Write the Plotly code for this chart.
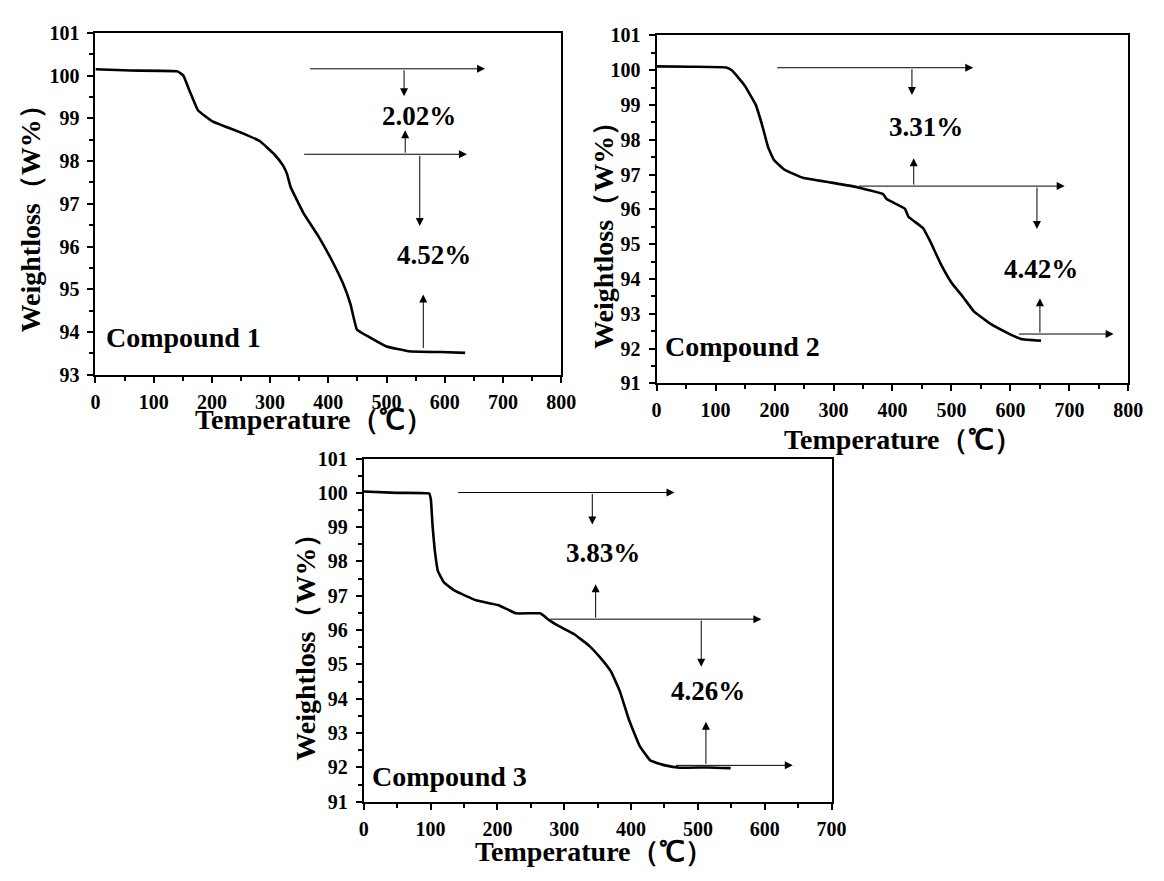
import plotly.graph_objects as go

# ---------------- data ----------------
c1_temp = [0, 60, 141, 151, 163, 176, 201, 251, 282, 307, 322, 329, 335, 357, 382, 407, 426, 438, 449, 469, 500, 538, 594, 635]
c1_wt   = [100.15, 100.12, 100.1, 100.0, 99.6, 99.19, 98.93, 98.66, 98.47, 98.16, 97.9, 97.7, 97.4, 96.79, 96.26, 95.65, 95.11, 94.65, 94.06, 93.89, 93.66, 93.55, 93.53, 93.51]

c2_temp = [0, 60, 118, 128, 149, 168, 180, 189, 199, 217, 248, 297, 340, 384, 390, 421, 427, 452, 464, 482, 501, 519, 538, 563, 593, 618, 652]
c2_wt   = [100.11, 100.1, 100.08, 99.99, 99.57, 99.01, 98.36, 97.79, 97.42, 97.14, 96.91, 96.77, 96.64, 96.44, 96.3, 96.02, 95.79, 95.46, 95.08, 94.43, 93.87, 93.5, 93.07, 92.75, 92.47, 92.28, 92.23]

c3_temp = [0, 50, 98, 100.5, 103, 106, 111, 120, 136, 168, 201, 228, 264, 277, 288, 315, 337, 353, 370, 383, 397, 413, 429, 451, 473, 516, 549]
c3_wt   = [100.04, 100.0, 99.98, 99.79, 99.04, 98.38, 97.72, 97.39, 97.15, 96.87, 96.73, 96.49, 96.49, 96.3, 96.16, 95.88, 95.55, 95.22, 94.79, 94.23, 93.38, 92.62, 92.2, 92.06, 91.99, 92.0, 91.98]

compound_labels = ["Compound 1", "Compound 2", "Compound 3"]
loss_labels = [["2.02%", "4.52%"], ["3.31%", "4.42%"], ["3.83%", "4.26%"]]
# label positions (temperature, weight)
loss_label_pos = [[(555, 99.05), (582, 95.8)], [(456, 98.36), (652, 94.28)], [(358, 98.26), (515, 94.22)]]
compound_pos = [(15, 93.86), (10, 92.05), (10, 91.74)]

# arrows: (tail_x, tail_y, head_x, head_y) in data units
arrows = [
    [(366, 100.16, 669, 100.16), (530, 100.16, 530, 99.52), (532, 98.16, 532, 98.72),
     (356, 98.16, 638, 98.16), (557, 98.16, 557, 96.48), (563, 93.59, 563, 94.88)],
    [(202, 100.07, 537, 100.07), (433, 100.07, 433, 99.29), (436, 96.67, 436, 97.47),
     (340, 96.67, 692, 96.67), (645, 96.67, 645, 95.44), (650, 92.42, 650, 93.45),
     (612, 92.42, 775, 92.42)],
    [(139, 100.01, 465, 100.01), (342, 100.01, 342, 99.08), (347, 96.32, 347, 97.34),
     (277, 96.32, 595, 96.32), (505, 96.32, 505, 94.93), (512, 92.06, 512, 93.33),
     (465, 92.06, 642, 92.06)],
]

x_ranges = [[0, 800], [0, 800], [0, 700]]
y_ranges = [[93, 101], [91, 101], [91, 101]]
x_tickvals = [list(range(0, 801, 100)), list(range(0, 801, 100)), list(range(0, 701, 100))]
y_tickvals = [list(range(93, 102)), list(range(91, 102)), list(range(91, 102))]
x_title = "Temperature（℃）"
y_title = "Weightloss（W%）"

# ---------------- layout geometry (page pixels) ----------------
W, H = 1164, 881
px_boxes = [(92, 566, 22.5, 373), (663, 1143, 25, 382), (365, 841, 459, 811)]
xtitle_pos = [(314, 419), (914, 439), (599, 862)]
ytitle_pos = [(26, 206), (609, 223), (306, 645)]


def px(xp):
    return xp / W


def py(yp):
    return 1 - yp / H


FONT = "Liberation Serif, Times New Roman, serif"

fig = go.Figure()
series = [(c1_temp, c1_wt), (c2_temp, c2_wt), (c3_temp, c3_wt)]
layout = dict(width=W, height=H, margin=dict(l=0, r=0, t=0, b=0),
              paper_bgcolor="white", plot_bgcolor="white", showlegend=False)

for i, (xs, ys) in enumerate(series):
    n = "" if i == 0 else str(i + 1)
    fig.add_trace(go.Scatter(x=xs, y=ys, mode="lines",
                             line=dict(color="black", width=2.6, shape="spline", smoothing=0.3),
                             xaxis="x" + n, yaxis="y" + n, hoverinfo="skip"))
    x0, x1, y0, y1 = px_boxes[i]
    axcommon = dict(showline=True, linecolor="black", linewidth=2, mirror=True,
                    showgrid=False, zeroline=False, ticks="outside", ticklen=6,
                    tickwidth=2, tickcolor="black", tickmode="array",
                    tickfont=dict(family=FONT, size=20, color="black", weight="bold"),
                    fixedrange=True)
    layout["xaxis" + n] = dict(axcommon, domain=[px(x0), px(x1)], range=x_ranges[i],
                               tickvals=x_tickvals[i],
                               ticktext=["<b>%d</b>" % v for v in x_tickvals[i]],
                               anchor="y" + n, ticklabelstandoff=2,
                               minor=dict(dtick=50, tick0=0, ticklen=4, tickwidth=2, ticks="outside", tickcolor="black"))
    layout["yaxis" + n] = dict(axcommon, domain=[py(y1), py(y0)], range=y_ranges[i],
                               tickvals=y_tickvals[i],
                               ticktext=["<b>%d</b>" % v for v in y_tickvals[i]],
                               anchor="x" + n, ticklabelstandoff=4,
                               minor=dict(dtick=0.5, tick0=0, ticklen=4, tickwidth=2, ticks="outside", tickcolor="black"))

fig.update_layout(**layout)

for i in range(3):
    n = "" if i == 0 else str(i + 1)
    xr, yr = "x" + n, "y" + n
    for (tx, ty, hx, hy) in arrows[i]:
        fig.add_annotation(x=hx, y=hy, ax=tx, ay=ty, xref=xr, yref=yr, axref=xr, ayref=yr,
                           text="", showarrow=True, arrowhead=2, arrowsize=1.6,
                           arrowwidth=1, arrowcolor="black")
    for lab, (lx, ly) in zip(loss_labels[i], loss_label_pos[i]):
        fig.add_annotation(x=lx, y=ly, xref=xr, yref=yr, text="<b>%s</b>" % lab,
                           showarrow=False, xanchor="center", yanchor="middle",
                           font=dict(family=FONT, size=27, color="black"))
    cx, cy = compound_pos[i]
    fig.add_annotation(x=cx, y=cy, xref=xr, yref=yr, text="<b>%s</b>" % compound_labels[i],
                       showarrow=False, xanchor="left", yanchor="middle",
                       font=dict(family=FONT, size=28, color="black"))
    tx, ty = xtitle_pos[i]
    fig.add_annotation(x=px(tx), y=py(ty), xref="paper", yref="paper",
                       text="<b>%s</b>" % x_title, showarrow=False,
                       xanchor="center", yanchor="middle",
                       font=dict(family=FONT, size=28, color="black"))
    tx, ty = ytitle_pos[i]
    fig.add_annotation(x=px(tx), y=py(ty), xref="paper", yref="paper",
                       text="<b>%s</b>" % y_title, showarrow=False, textangle=-90,
                       xanchor="center", yanchor="middle",
                       font=dict(family=FONT, size=28, color="black"))

fig.write_html("out.html")
